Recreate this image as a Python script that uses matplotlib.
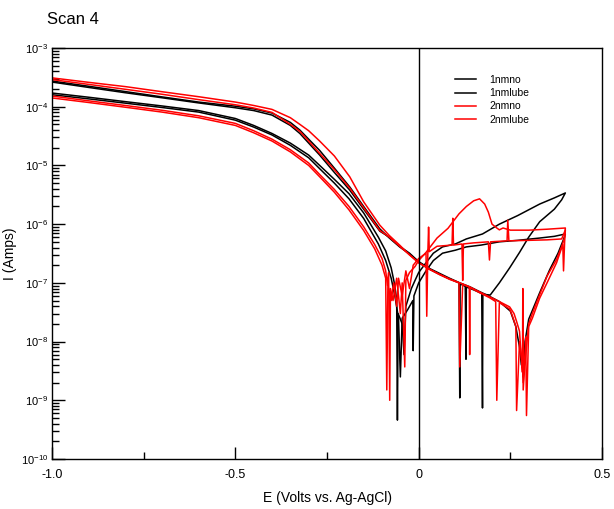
import numpy as np
import matplotlib
matplotlib.use("Agg")
import matplotlib.pyplot as plt
from matplotlib.ticker import LogLocator, NullFormatter, FixedLocator

# 字体 (Arial 的替代)
plt.rcParams['font.family'] = ['Liberation Sans', 'DejaVu Sans']
plt.rcParams['axes.unicode_minus'] = False

# ---- 1nmno (black) ----
e_1nmno_fwd = [-1.00, -0.90, -0.80, -0.70, -0.60, -0.50, -0.45, -0.40, -0.35, -0.30,
               -0.27, -0.23, -0.19, -0.15, -0.11, -0.09, -0.075, -0.065, -0.06, -0.058,
               -0.056, -0.045, -0.04, -0.035, -0.02, -0.01, 0.0, 0.02, 0.04, 0.065,
               0.10, 0.13, 0.174, 0.22, 0.27, 0.33, 0.37, 0.40]
i_1nmno_fwd = [1.71e-4, 1.45e-4, 1.22e-4, 1.03e-4, 8.6e-5, 6.3e-5, 4.8e-5, 3.5e-5, 2.4e-5, 1.5e-5,
               1.0e-5, 5.8e-6, 3.3e-6, 1.55e-6, 6.0e-7, 3.5e-7, 1.8e-7, 9e-8, 5e-8, 4.6e-10,
               3.0e-8, 2.0e-8, 6e-9, 4e-8, 8e-8, 1.1e-7, 1.5e-7, 2.2e-7, 3.2e-7, 4.1e-7,
               4.6e-7, 5.6e-7, 6.8e-7, 1.0e-6, 1.4e-6, 2.2e-6, 2.8e-6, 3.4e-6]
e_1nmno_rev = [0.39, 0.37, 0.33, 0.30, 0.275, 0.248, 0.22, 0.195, 0.175, 0.174,
               0.172, 0.15, 0.13, 0.129, 0.127, 0.113, 0.112, 0.11, 0.084, 0.057,
               0.03, 0.0, -0.025, -0.052, -0.08, -0.106, -0.15, -0.188, -0.23, -0.27,
               -0.30, -0.324, -0.35, -0.40, -0.45, -0.50, -0.60, -0.70, -0.80, -0.90,
               -1.00]
i_1nmno_rev = [2.6e-6, 1.8e-6, 1.1e-6, 6.0e-7, 3.3e-7, 1.8e-7, 1.0e-7, 6.2e-8, 6.4e-8, 7.4e-10,
               6.6e-8, 7.6e-8, 8.5e-8, 5e-9, 8.7e-8, 9.6e-8, 1.1e-9, 1.0e-7, 1.17e-7, 1.4e-7,
               1.7e-7, 2.26e-7, 3.1e-7, 4.1e-7, 5.8e-7, 8.3e-7, 2.0e-6, 4.3e-6, 9.0e-6, 1.8e-5,
               2.8e-5, 4.0e-5, 5.4e-5, 7.8e-5, 9.2e-5, 1.02e-4, 1.2e-4, 1.47e-4, 1.81e-4, 2.23e-4,
               2.74e-4]

# ---- 1nmlube (black) ----
e_1nmlube_fwd = [-1.00, -0.90, -0.80, -0.70, -0.60, -0.50, -0.45, -0.40, -0.35, -0.30,
                 -0.27, -0.23, -0.19, -0.15, -0.11, -0.09, -0.075, -0.065, -0.055, -0.05,
                 -0.045, -0.03, -0.016, -0.015, -0.013, 0.0, 0.02, 0.04, 0.065, 0.10,
                 0.13, 0.17, 0.22, 0.27, 0.33, 0.37, 0.40]
i_1nmlube_fwd = [1.60e-4, 1.36e-4, 1.15e-4, 9.7e-5, 8.1e-5, 5.9e-5, 4.5e-5, 3.3e-5, 2.2e-5, 1.35e-5,
                 8.8e-6, 5.0e-6, 2.7e-6, 1.25e-6, 4.6e-7, 2.4e-7, 1.2e-7, 6e-8, 2.5e-8, 2.5e-9,
                 2.5e-8, 3.5e-8, 5e-8, 7e-9, 6e-8, 1.0e-7, 1.6e-7, 2.4e-7, 3.2e-7, 3.6e-7,
                 4.1e-7, 4.4e-7, 5.0e-7, 5.3e-7, 5.8e-7, 6.2e-7, 6.8e-7]
e_1nmlube_rev = [0.395, 0.38, 0.357, 0.33, 0.30, 0.29, 0.285, 0.283, 0.28, 0.275,
                 0.265, 0.25, 0.22, 0.193, 0.166, 0.139, 0.112, 0.084, 0.057, 0.03,
                 0.0, -0.025, -0.052, -0.08, -0.106, -0.15, -0.188, -0.23, -0.27, -0.30,
                 -0.324, -0.35, -0.40, -0.45, -0.50, -0.60, -0.70, -0.80, -0.90, -1.00]
i_1nmlube_rev = [5.5e-7, 3.2e-7, 1.66e-7, 6.8e-8, 2.4e-8, 1.0e-8, 2.5e-9, 6e-9, 4e-9, 8e-9,
                 1.8e-8, 3.3e-8, 4.8e-8, 5.9e-8, 7.1e-8, 8.6e-8, 1.0e-7, 1.2e-7, 1.45e-7, 1.75e-7,
                 2.3e-7, 3.2e-7, 4.2e-7, 6.0e-7, 7.6e-7, 1.8e-6, 3.8e-6, 7.6e-6, 1.5e-5, 2.4e-5,
                 3.5e-5, 4.8e-5, 7.2e-5, 8.6e-5, 9.6e-5, 1.16e-4, 1.42e-4, 1.73e-4, 2.13e-4, 2.63e-4]

# ---- 2nmno (red) ----
e_2nmno_fwd = [-1.00, -0.90, -0.80, -0.70, -0.60, -0.50, -0.45, -0.40, -0.35, -0.30,
               -0.27, -0.23, -0.19, -0.15, -0.12, -0.10, -0.09, -0.085, -0.082, -0.079,
               -0.077, -0.07, -0.06, -0.05, -0.045, -0.038, -0.035, -0.025, -0.01, 0.0,
               0.02, 0.05, 0.08, 0.11, 0.13, 0.15, 0.166, 0.18, 0.19, 0.20,
               0.213, 0.22, 0.23, 0.25, 0.30, 0.35, 0.40]
i_2nmno_fwd = [1.52e-4, 1.26e-4, 1.05e-4, 8.7e-5, 7.0e-5, 5.2e-5, 3.9e-5, 2.8e-5, 1.85e-5, 1.1e-5,
               7.0e-6, 3.9e-6, 2.0e-6, 9e-7, 4.5e-7, 2.6e-7, 1.6e-7, 9e-8, 1.5e-7, 1.0e-9,
               8e-8, 5e-8, 1.2e-7, 3e-8, 1.0e-7, 3.7e-9, 1.1e-7, 1.5e-7, 1.9e-7, 2.4e-7,
               3.3e-7, 5.8e-7, 8.5e-7, 1.5e-6, 2.0e-6, 2.5e-6, 2.7e-6, 2.2e-6, 1.6e-6, 1.0e-6,
               8.6e-7, 8.0e-7, 8.6e-7, 7.9e-7, 7.9e-7, 8.2e-7, 8.6e-7]
e_2nmno_rev = [0.398, 0.392, 0.376, 0.35, 0.33, 0.31, 0.30, 0.294, 0.289, 0.285,
               0.284, 0.283, 0.28, 0.275, 0.267, 0.26, 0.248, 0.22, 0.193, 0.166,
               0.14, 0.139, 0.138, 0.112, 0.084, 0.057, 0.03, 0.0, -0.025, -0.052,
               -0.08, -0.106, -0.15, -0.188, -0.23, -0.27, -0.30, -0.324, -0.35, -0.40,
               -0.45, -0.50, -0.60, -0.70, -0.80, -0.90, -1.00]
i_2nmno_rev = [6e-7, 4.5e-7, 2.5e-7, 1.3e-7, 6.3e-8, 3e-8, 2.0e-8, 8e-9, 3.7e-9, 1.5e-9,
               8e-8, 3e-9, 5e-9, 1.5e-8, 2.2e-8, 3.0e-8, 3.9e-8, 4.8e-8, 5.8e-8, 7e-8,
               8.5e-8, 6e-9, 8.6e-8, 1.0e-7, 1.17e-7, 1.4e-7, 1.7e-7, 2.2e-7, 3.0e-7, 4.4e-7,
               6.4e-7, 9.6e-7, 2.4e-6, 6.4e-6, 1.45e-5, 2.6e-5, 3.9e-5, 5.0e-5, 6.5e-5, 9.0e-5,
               1.05e-4, 1.2e-4, 1.48e-4, 1.8e-4, 2.2e-4, 2.6e-4, 3.1e-4]

# ---- 2nmlube (red) ----
e_2nmlube_fwd = [-1.00, -0.90, -0.80, -0.70, -0.60, -0.50, -0.45, -0.40, -0.35, -0.30,
                 -0.27, -0.23, -0.19, -0.15, -0.12, -0.10, -0.09, -0.087, -0.084, -0.075,
                 -0.068, -0.06, -0.055, -0.045, -0.035, -0.025, -0.015, 0.0, 0.02, 0.022,
                 0.025, 0.027, 0.029, 0.05, 0.091, 0.093, 0.095, 0.118, 0.12, 0.122,
                 0.15, 0.19, 0.193, 0.196, 0.241, 0.243, 0.246, 0.30, 0.35, 0.39,
                 0.40]
i_2nmlube_fwd = [1.41e-4, 1.18e-4, 9.8e-5, 8.1e-5, 6.5e-5, 4.8e-5, 3.6e-5, 2.6e-5, 1.7e-5, 1.0e-5,
                 6.4e-6, 3.5e-6, 1.75e-6, 7.8e-7, 3.8e-7, 2.0e-7, 1.2e-7, 1.5e-9, 9e-8, 5e-8,
                 1.0e-7, 4e-8, 1.2e-7, 6e-8, 1.6e-7, 8e-8, 2.0e-7, 2.6e-7, 3.2e-7, 2.7e-8,
                 3.3e-7, 8.9e-7, 3.4e-7, 4.2e-7, 4.4e-7, 1.26e-6, 4.4e-7, 4.6e-7, 1.1e-7, 4.6e-7,
                 4.8e-7, 5.0e-7, 2.45e-7, 5.0e-7, 5.2e-7, 1.17e-6, 5.2e-7, 5.3e-7, 5.4e-7, 5.6e-7,
                 8.0e-7]
e_2nmlube_rev = [0.398, 0.395, 0.393, 0.376, 0.35, 0.33, 0.31, 0.30, 0.294, 0.292,
                 0.289, 0.285, 0.283, 0.275, 0.267, 0.265, 0.255, 0.248, 0.22, 0.213,
                 0.21, 0.193, 0.166, 0.139, 0.12, 0.112, 0.11, 0.084, 0.057, 0.03,
                 0.0, -0.025, -0.052, -0.08, -0.106, -0.15, -0.188, -0.23, -0.27, -0.30,
                 -0.324, -0.35, -0.40, -0.45, -0.50, -0.60, -0.70, -0.80, -0.90, -1.00]
i_2nmlube_rev = [5.0e-7, 1.6e-7, 4.5e-7, 2.2e-7, 1.0e-7, 5.5e-8, 2.5e-8, 1.8e-8, 5.5e-10, 1.2e-8,
                 5e-9, 2e-9, 4e-9, 1.0e-8, 6.7e-10, 1.8e-8, 2.8e-8, 3.6e-8, 4.6e-8, 1.0e-9,
                 4.8e-8, 5.6e-8, 6.8e-8, 8.4e-8, 9.5e-8, 3.7e-9, 1.0e-7, 1.15e-7, 1.38e-7, 1.7e-7,
                 2.2e-7, 3.0e-7, 4.2e-7, 6.0e-7, 7.8e-7, 1.9e-6, 4.1e-6, 8.5e-6, 1.6e-5, 2.6e-5,
                 3.8e-5, 5.0e-5, 8.0e-5, 9.5e-5, 1.08e-4, 1.32e-4, 1.63e-4, 1.98e-4, 2.4e-4, 2.9e-4]

labels = ["1nmno", "1nmlube", "2nmno", "2nmlube"]
colors = ["black", "black", "red", "red"]
scans = [
    (e_1nmno_fwd + e_1nmno_rev, i_1nmno_fwd + i_1nmno_rev),
    (e_1nmlube_fwd + e_1nmlube_rev, i_1nmlube_fwd + i_1nmlube_rev),
    (e_2nmno_fwd + e_2nmno_rev, i_2nmno_fwd + i_2nmno_rev),
    (e_2nmlube_fwd + e_2nmlube_rev, i_2nmlube_fwd + i_2nmlube_rev),
]

fig = plt.figure(figsize=(6.14, 5.09), dpi=100)
ax = fig.add_axes([0.0847, 0.0982, 0.8958, 0.8075])

for (e, i), lab, c in zip(scans, labels, colors):
    ax.plot(e, i, color=c, linewidth=1.1, label=lab)

# 0 V 处的竖线
ax.axvline(0, color="black", linewidth=1.0)

ax.set_yscale("log")
ax.set_xlim(-1.0, 0.5)
ax.set_ylim(1e-10, 1e-3)

ax.set_xticks([-1.0, -0.5, 0.0, 0.5])
ax.set_xticklabels(["-1.0", "-0.5", "0", "0.5"])
ax.set_xticks([-0.75, -0.25, 0.25], minor=True)
ax.yaxis.set_major_locator(FixedLocator([10.0 ** k for k in range(-10, -2)]))
ax.yaxis.set_minor_locator(LogLocator(base=10, subs=np.arange(2, 10), numticks=100))
ax.yaxis.set_minor_formatter(NullFormatter())

ax.tick_params(axis="both", which="major", direction="in", length=9, width=1.0)
ax.tick_params(axis="both", which="minor", direction="in", length=5, width=1.0)
ax.tick_params(axis="x", labelsize=9, pad=7)
ax.tick_params(axis="y", labelsize=8, pad=3)
for s in ax.spines.values():
    s.set_linewidth(1.0)

ax.set_xlabel("E (Volts vs. Ag-AgCl)", fontsize=10)
ax.set_ylabel("I (Amps)", fontsize=10)
ax.xaxis.set_label_coords(0.5, -0.078)
ax.yaxis.set_label_coords(-0.064, 0.5)

fig.text(0.0765, 0.961, "Scan 4", fontsize=12, va="center", ha="left")

ax.legend(loc="upper left", bbox_to_anchor=(0.733, 0.934), frameon=False,
          fontsize=7.5, handlelength=2.0, handletextpad=1.3, labelspacing=0.3,
          borderpad=0, borderaxespad=0)

fig.savefig("out.png", dpi=100)
